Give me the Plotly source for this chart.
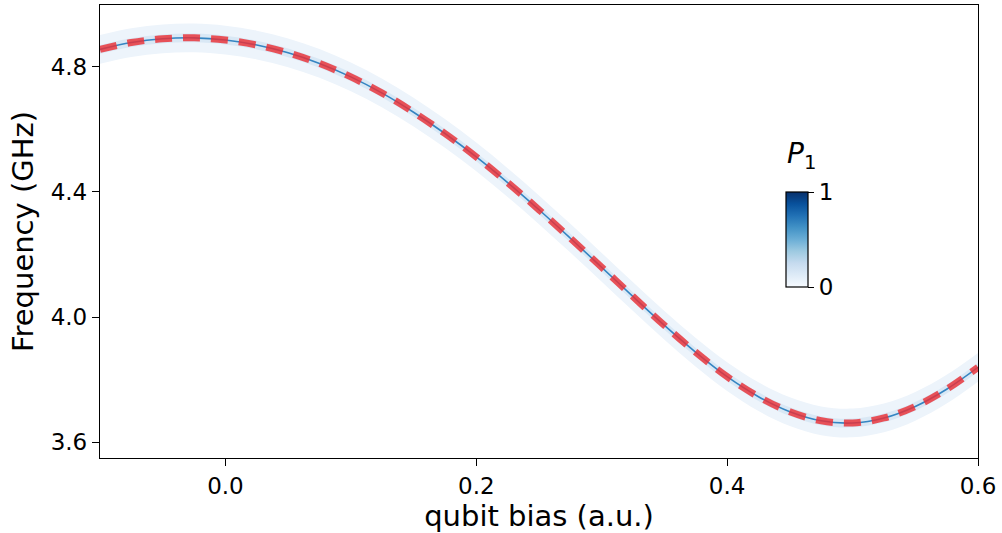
import plotly.graph_objects as go

# qubit bias (a.u.)
bias = [-0.100, -0.075, -0.050, -0.025, 0.000, 0.025, 0.050, 0.075, 0.100,
        0.125, 0.150, 0.175, 0.200, 0.225, 0.250, 0.275, 0.300, 0.325,
        0.350, 0.375, 0.400, 0.425, 0.450, 0.475, 0.500, 0.525, 0.550,
        0.575, 0.600]
# qubit frequency (GHz)
freq = [4.856, 4.878, 4.890, 4.893, 4.886, 4.870, 4.845, 4.811, 4.768,
        4.716, 4.655, 4.587, 4.512, 4.430, 4.343, 4.252, 4.159, 4.065,
        3.973, 3.887, 3.809, 3.745, 3.697, 3.668, 3.661, 3.677, 3.714,
        3.769, 3.839]

x_ticks = [0.0, 0.2, 0.4, 0.6]
x_tick_text = ["0.0", "0.2", "0.4", "0.6"]
y_ticks = [3.6, 4.0, 4.4, 4.8]
y_tick_text = ["3.6", "4.0", "4.4", "4.8"]

# style: half-widths (GHz) of the spectroscopy band
BAND_OUTER = 0.046
BAND_INNER = 0.014

blues = [[0.0, "#f7fbff"], [0.125, "#deebf7"], [0.25, "#c6dbef"],
         [0.375, "#9ecae1"], [0.5, "#6baed6"], [0.625, "#4292c6"],
         [0.75, "#2171b5"], [0.875, "#08519c"], [1.0, "#08306b"]]

FONT = "DejaVu Sans"

fig = go.Figure()


def band(half, color):
    up = [f + half for f in freq]
    lo = [f - half for f in freq]
    fig.add_trace(go.Scatter(x=bias, y=up, mode="lines", line=dict(width=0, shape="spline"),
                             hoverinfo="skip", showlegend=False))
    fig.add_trace(go.Scatter(x=bias, y=lo, mode="lines", line=dict(width=0, shape="spline"),
                             fill="tonexty", fillcolor=color, hoverinfo="skip", showlegend=False))


band(BAND_OUTER, "#edf4fb")
band(BAND_INNER, "#d9e8f5")

fig.add_trace(go.Scatter(x=bias, y=freq, mode="lines",
                         line=dict(color="#3585c2", width=1.6, shape="spline"),
                         showlegend=False))

fig.add_trace(go.Scatter(x=bias, y=freq, mode="lines",
                         line=dict(color="rgba(234,48,54,0.82)", width=7, shape="spline",
                                   dash="17px,11px"),
                         showlegend=False))

# colorbar carrier
fig.add_trace(go.Scatter(
    x=[None], y=[None], mode="markers", showlegend=False,
    marker=dict(color=[0], colorscale=blues, cmin=0, cmax=1, showscale=True,
                colorbar=dict(x=0.7813, xanchor="left", xpad=0, ypad=0,
                              y=0.4823, yanchor="middle", len=95, lenmode="pixels",
                              thickness=22, outlinewidth=1.2, outlinecolor="black",
                              tickvals=[0, 1], ticktext=["0", "1"], ticks="outside",
                              ticklen=6, tickwidth=1.2, tickcolor="black",
                              tickfont=dict(family=FONT, size=23, color="black")))))

fig.add_annotation(x=(801 - 100) / 878, y=(458 - 155) / 453, xref="paper", yref="paper",
                   text="<i>P</i><sub>1</sub>", showarrow=False,
                   font=dict(family=FONT, size=28, color="black"),
                   xanchor="center", yanchor="middle")

axis_common = dict(showline=True, linecolor="black", linewidth=1.3, mirror=True,
                   ticks="outside", ticklen=7, tickwidth=1.3, tickcolor="black",
                   showgrid=False, zeroline=False,
                   tickfont=dict(family=FONT, size=23, color="black"))

fig.update_xaxes(range=[-0.1, 0.6], tickvals=x_ticks, ticktext=x_tick_text,
                 title=dict(text="qubit bias (a.u.)", standoff=6,
                            font=dict(family=FONT, size=29, color="black")),
                 **axis_common)
fig.update_yaxes(range=[3.549, 4.998], tickvals=y_ticks, ticktext=y_tick_text,
                 title=dict(text="Frequency (GHz)", standoff=8,
                            font=dict(family=FONT, size=29, color="black")),
                 **axis_common)

fig.update_layout(width=1002, height=533, margin=dict(l=100, r=24, t=5, b=75),
                  paper_bgcolor="white", plot_bgcolor="white")

fig.write_html("out.html")
